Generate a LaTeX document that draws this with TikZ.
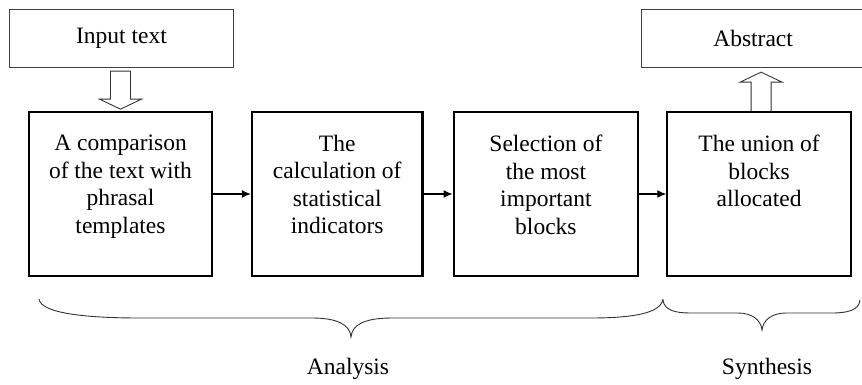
\documentclass[tikz,border=0pt]{standalone}
\usepackage{fontspec}
\setmainfont{Liberation Serif}
\usetikzlibrary{positioning, arrows.meta}
\tikzstyle{block} = [rectangle, draw=black, line width=2.2pt, minimum height=163.5pt, inner sep=0pt]
\tikzstyle{io} = [rectangle, draw=black!75, line width=0.9pt, minimum height=58pt, minimum width=224pt]
\tikzstyle{edge} = [line width=1.2pt, ->, >={Latex[length=9pt,width=8pt]}]
\tikzstyle{hollow} = [line width=0.9pt, draw=black!80]
\tikzstyle{brace} = [line width=0.9pt, draw=black!80]
\newcommand{\blocktext}[1]{\parbox[c][118pt][t]{165pt}{\centering #1}}

\begin{document}
\begin{tikzpicture}[x=1pt, y=-1pt, font=\fontsize{23.5}{27.5}\selectfont]

\useasboundingbox (0,0) rectangle (862,385);

\node (0) [block, minimum width=182.5pt] at (120.5,194) {\blocktext{A comparison\\of the text with\\phrasal\\templates}};
\node (1) [block, minimum width=170.5pt, right=38pt of 0] {\blocktext{The\\calculation of\\statistical\\indicators}};
\node (2) [block, minimum width=184.5pt, right=29pt of 1] {\blocktext{Selection of\\the most\\important\\blocks}};
\node (3) [block, minimum width=183.5pt, right=27pt of 2] {\blocktext{The union of\\blocks\\allocated}};
\node (4) [io, above=43pt of 0, xshift=1pt] {Input text};
\node (5) [io, above=43pt of 3, xshift=-6pt, minimum width=223pt] {Abstract};

\draw [edge] (0) -- (1);
\draw [edge] (1) -- (2);
\draw [edge] (2) -- (3);

% hollow arrows
\draw [hollow] ([yshift=2pt]0.north) -- ++(-21,-10) -- ++(11,0) -- ++(0,-28) -- ++(20,0) -- ++(0,28) -- ++(11,0) -- cycle;
\draw [hollow] ([xshift=-8pt]3.north) -- ++(0,-29) -- ++(-11,0) -- ++(21,-10) -- ++(21,10) -- ++(-11,0) -- ++(0,29);

% braces
\draw [brace] (39,299) .. controls (41,314) and (90,318) .. (140,318) -- (312,318) .. controls (338,318) and (350,325) .. (351,337) .. controls (352,325) and (364,318) .. (392,318) -- (590,318) .. controls (630,318) and (661,314) .. (663,299);
\draw [brace] (663,300) .. controls (664,310) and (675,313) .. (690,313) -- (738,313) .. controls (752,313) and (761,320) .. (762,330) .. controls (763,320) and (772,313) .. (786,313) -- (832,313) .. controls (848,313) and (859,310) .. (860,300);

\node (6) at (348,369) {Analysis};
\node (7) at (767,369) {Synthesis};

\end{tikzpicture}
\end{document}
